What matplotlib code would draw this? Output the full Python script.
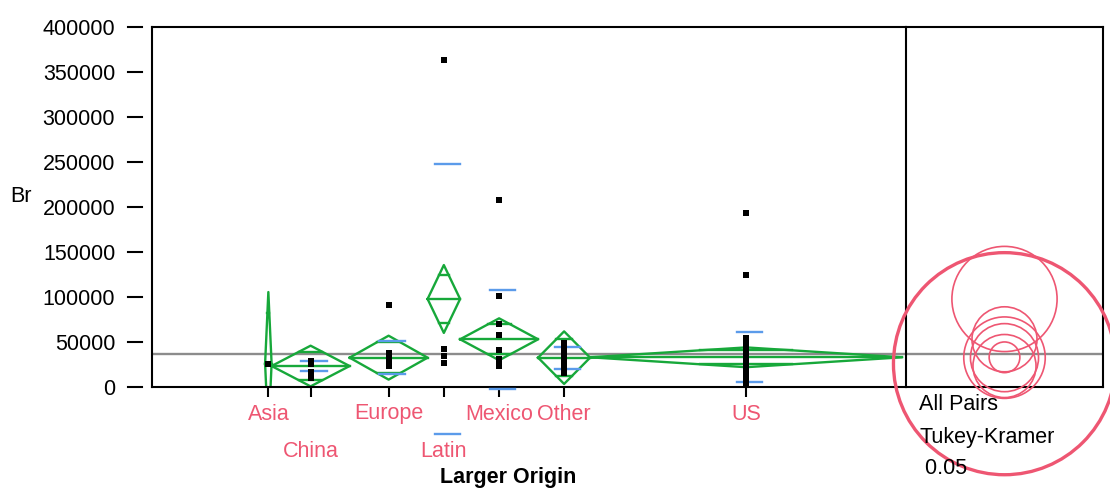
import numpy as np
import matplotlib.pyplot as plt
from matplotlib.patches import Circle

plt.rcParams['font.family'] = ['Liberation Sans', 'DejaVu Sans']

groups = ['Asia', 'China', 'Europe', 'Latin', 'Mexico', 'Other', 'US']
counts = [1, 12, 12, 5, 12, 8, 48]
means = [25900, 23300, 32600, 97800, 53000, 32600, 33000]
ci_half = [79600, 22600, 24400, 37700, 23300, 29200, 11000]
std_devs = [None, 5500, 18000, 150000, 55000, 12200, 27800]
grand_mean = 37000

points = {
    'Asia': [25900],
    'China': [28500, 26000, 17000, 10500],
    'Europe': [91000, 38000, 35000, 32000, 29000, 26000, 23000],
    'Latin': [363000, 42000, 35000, 27000],
    'Mexico': [208000, 101000, 70000, 58000, 41000, 31000, 28000, 25000, 23000],
    'Other': [49000, 45000, 40000, 35000, 30000, 25000, 20000, 16000],
    'US': [193000, 124000, 54000, 51000, 49000, 47000, 45000, 43000, 41000,
           39000, 37000, 35000, 33000, 31000, 29000, 27000, 25000, 23000,
           21000, 19000, 17000, 15000, 13000, 11000, 9000, 7000, 5000, 3500],
}
yticks = [0, 50000, 100000, 150000, 200000, 250000, 300000, 350000, 400000]

green = '#17A83A'
blue = '#5B9BEA'
pink = '#EE5672'
gray = '#8C8C8C'
fs = 15.5

fig = plt.figure(figsize=(11.1, 4.92), dpi=100)
ax = fig.add_axes([152 / 1110, 105 / 492, 754 / 1110, 360 / 492])
ax2 = fig.add_axes([906 / 1110, 105 / 492, 197 / 1110, 360 / 492])

ax.set_xlim(-17.4, 98.6)
ax.set_ylim(0, 400000)

edges = np.concatenate([[0], np.cumsum(counts)])
centers = (edges[:-1] + edges[1:]) / 2

ax.axhline(grand_mean, color=gray, lw=1.7, zorder=1)

k = 1 / np.sqrt(2)
for i, g in enumerate(groups):
    x0, x1, xc = edges[i], edges[i + 1], centers[i]
    m, h = means[i], ci_half[i]
    ax.plot([x0, xc, x1, xc, x0], [m, m + h, m, m - h, m], color=green, lw=1.7, zorder=2)
    ax.plot([x0, x1], [m, m], color=green, lw=1.7, zorder=2)
    hw = (x1 - x0) / 2 * (1 - k)
    for s in (1, -1):
        ax.plot([xc - hw, xc + hw], [m + s * h * k] * 2, color=green, lw=1.7, zorder=2)
    if std_devs[i] is not None:
        for s in (1, -1):
            ax.plot([xc - 1.4, xc + 2.5], [m + s * std_devs[i]] * 2,
                    color=blue, lw=1.7, clip_on=False, zorder=3)
    vals = points[g]
    ax.plot([xc] * len(vals), vals, 's', color='black', ms=4, mew=0, zorder=4)

# y axis: tick marks sit apart from the spine, as in the original
ax.set_yticks(yticks)
ax.set_yticklabels([str(v) for v in yticks], fontsize=fs)
ax.tick_params(axis='y', length=0, pad=26.5)
ytr = ax.get_yaxis_transform()
for v in yticks:
    ax.plot([-0.0318, -0.0133], [v, v], color='black', lw=1.5, transform=ytr, clip_on=False)

# x axis
ax.set_xticks(centers)
ax.set_xticklabels([])
ax.tick_params(axis='x', direction='out', length=7.5, width=1.5)
xtr = ax.get_xaxis_transform()
for i, g in enumerate(groups):
    yy = -0.18 if g in ('China', 'Latin') else -0.075
    ax.text(centers[i], yy, g, color=pink, fontsize=fs, ha='center', va='center', transform=xtr)

for side in ('left', 'top', 'bottom'):
    ax.spines[side].set_linewidth(1.5)
ax.spines['right'].set_visible(False)

fig.text(508 / 1110, 1 - 478 / 492, 'Larger Origin', fontsize=fs, fontweight='bold', ha='center', va='center')
fig.text(21 / 1110, 1 - 197 / 492, 'Br', fontsize=fs, ha='center', va='center')

# comparison circles panel
ax2.set_ylim(0, 400000)
half_w = 197 / 2 * 400000 / 360
ax2.set_xlim(-half_w, half_w)
ax2.set_xticks([])
ax2.set_yticks([])
for side in ax2.spines.values():
    side.set_linewidth(1.5)
ax2.axhline(grand_mean, color=gray, lw=1.7, zorder=1)
for i, g in enumerate(groups):
    lw = 2.4 if g == 'Asia' else 1.2
    ax2.add_patch(Circle((0, means[i]), ci_half[i] * 1.55, fill=False, ec=pink,
                         lw=lw, clip_on=False, zorder=3))

fig.text(919 / 1110, 1 - 405 / 492, 'All Pairs', fontsize=fs, va='center')
fig.text(919 / 1110, 1 - 438 / 492, 'Tukey-Kramer', fontsize=fs, va='center')
fig.text(919 / 1110, 1 - 468 / 492, ' 0.05', fontsize=fs, va='center')

fig.savefig('out.png', dpi=100)
